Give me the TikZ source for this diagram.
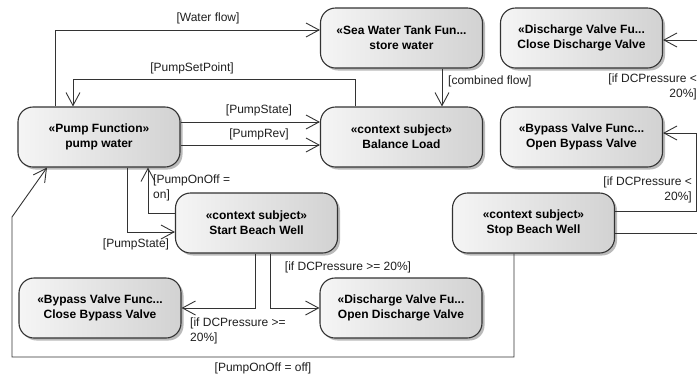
\documentclass[tikz,border=0pt]{standalone}
\usepackage{fontspec}
\setmainfont{Liberation Sans}
\usetikzlibrary{arrows.meta,shadows}
\definecolor{edgec}{HTML}{333333}
\definecolor{fillL}{HTML}{F5F5F5}
\definecolor{fillR}{HTML}{D2D2D2}
\begin{document}
\begin{tikzpicture}[x=1pt,y=-1pt,
  act/.style={draw=edgec, line width=1.1pt, rounded corners=15pt,
    minimum width=162pt, minimum height=60pt, left color=fillL, right color=fillR,
    align=center, font=\bfseries\fontsize{12}{15}\selectfont, inner sep=0pt,
    drop shadow={shadow xshift=2.5pt, shadow yshift=-2.5pt, opacity=0.45, fill=black!60}},
  flow/.style={draw=edgec, line width=0.9pt,
    -{Straight Barb[length=13pt,width=14pt,line width=0.9pt]}},
  lbl/.style={font=\fontsize{12}{14.5}\selectfont, text=black!88, inner sep=0pt}]
\useasboundingbox (0,0) rectangle (697,376);
\clip (0,0) rectangle (697,376);
\fill[white] (0,0) rectangle (697,376);

\node[act] (pump)  at (99,137)    {«Pump Function»\\pump water};
\node[act] (tank)  at (401.5,38)  {«Sea Water Tank Fun...\\store water};
\node[act] (bal)   at (401.5,137) {«context subject»\\Balance Load};
\node[act] (cdv)   at (581.5,38)  {«Discharge Valve Fu...\\Close Discharge Valve};
\node[act] (obv)   at (581.5,137) {«Bypass Valve Func...\\Open Bypass Valve};
\node[act] (stop)  at (533.5,223) {«context subject»\\Stop Beach Well};
\node[act] (start) at (256.5,223) {«context subject»\\Start Beach Well};
\node[act] (cbv)   at (100,308)   {«Bypass Valve Func...\\Close Bypass Valve};
\node[act] (odv)   at (401,308)   {«Discharge Valve Fu...\\Open Discharge Valve};

\draw[flow] (pump.north -| 55,0) |- (tank.west |- 0,30);
\node[lbl] (l1) at (208,18) {[Water flow]};
\draw[flow] (bal.north -| 355,0) -- (355,79) -| (pump.north -| 73,0);
\node[lbl] (l2) at (192,68) {[PumpSetPoint]};
\draw[flow] (pump.east |- 0,122) -- (bal.west |- 0,122);
\node[lbl] (l3) at (259,110) {[PumpState]};
\draw[flow] (pump.east |- 0,145) -- (bal.west |- 0,145);
\node[lbl] (l4) at (259,134) {[PumpRev]};
\draw[flow] (tank.south -| 442,0) -- (bal.north -| 442,0);
\node[lbl, anchor=west] (l5) at (448,81) {[combined flow]};
\draw[flow] (start.west |- 0,213) -| (pump.south -| 148,0);
\node[lbl, anchor=north west, align=left] (l6) at (153,175) {[PumpOnOff =\\on]};
\draw[flow] (pump.south -| 127,0) |- (start.west |- 0,232);
\node[lbl] (l7) at (136,244) {[PumpState]};
\draw[flow] (start.south -| 255,0) |- (cbv.east);
\node[lbl, anchor=north west, align=left] (l8) at (190,318) {[if DCPressure >=\\20\%]};
\draw[flow] (start.south -| 270,0) |- (odv.west);
\node[lbl] (l9) at (348,267) {[if DCPressure >= 20\%]};
\draw[flow] (stop.south -| 514,0) -- (514,357) -- (12,357) -- (12,217) -- (pump.south -| 47,0);
\node[lbl] (l10) at (263,368) {[PumpOnOff = off]};
\draw[flow] (stop.east |- 0,211) -- (696,211) |- (obv.east |- 0,133);
\node[lbl, anchor=north east, align=right] (l11) at (692,177) {[if DCPressure <\\20\%]};
\draw[flow] (stop.east |- 0,233) -- (710,233) |- (cdv.east |- 0,40);
\node[lbl, anchor=north east, align=right] (l12) at (697,74) {[if DCPressure <\\20\%]};
\end{tikzpicture}
\end{document}
